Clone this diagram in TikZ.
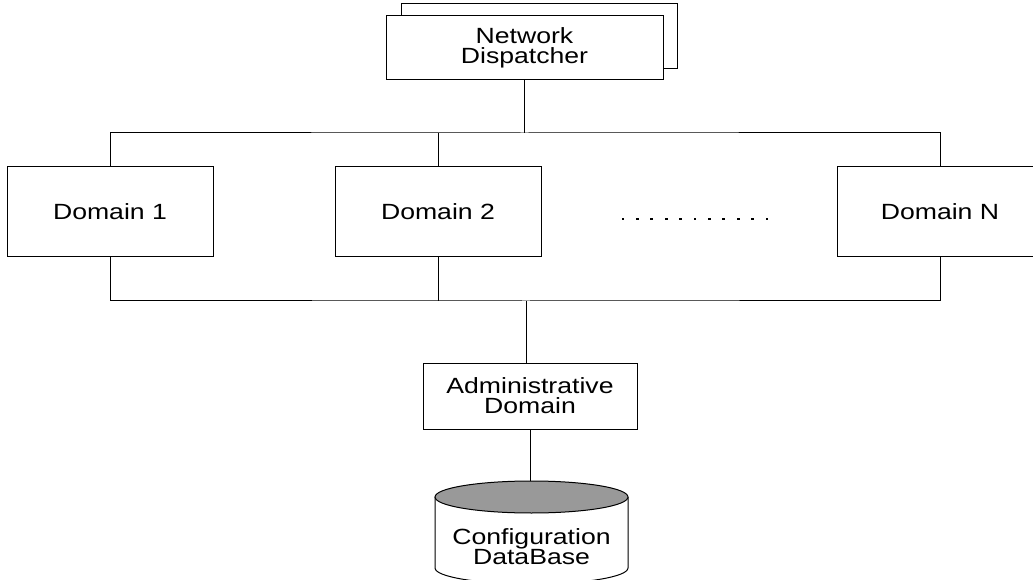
\documentclass[tikz,border=0pt]{standalone}
\usepackage{fontspec}
\setmainfont{Liberation Sans}[FakeStretch=1.21]
\begin{document}
\begin{tikzpicture}[x=1pt,y=1pt,line width=1pt,
    box/.style={draw,fill=white,align=center,inner sep=0pt,
      font=\fontsize{22}{20}\selectfont}]
    \useasboundingbox (0,0) rectangle (1033,579);
    \clip (0,0) rectangle (1033,579);
    % dispatcher (two stacked boxes)
    \node [box, minimum width=276, minimum height=65] (dispback) at (539,542.5) {};
    \node [box, minimum width=277, minimum height=64] (disp) at (524.5,531) {Network\\Dispatcher};
    % domains
    \node [box, minimum width=206, minimum height=90] (dom1) at (110,367) {Domain 1};
    \node [box, minimum width=206, minimum height=90] (dom2) at (438,367) {Domain 2};
    \node [box, minimum width=206, minimum height=90] (domN) at (940,367) {Domain N};
    \foreach \x in {0,1,...,10}
    {
      \fill (623+\x*14.4-1.4,358.6) rectangle ++(2.8,2.8);
    }
    % administration
    \node [box, minimum width=214, minimum height=66] (admin) at (530,183) {Administrative\\Domain};
    % database cylinder
    \fill [white] (435,82) -- (435,11) arc [start angle=180, end angle=360, x radius=96.5, y radius=16] -- (628,82) -- cycle;
    \draw (435,82) -- (435,11) arc [start angle=180, end angle=360, x radius=96.5, y radius=16] -- (628,82);
    \draw [fill=black!40] (531.5,82) ellipse [x radius=96.5, y radius=16];
    \coordinate (dbtop) at (531.5,98);
    \node [font=\fontsize{22}{20}\selectfont, align=center, inner sep=0pt] (db) at (531.5,32) {Configuration\\DataBase};
    % buses
    \draw (disp.south) -- (disp.south |- 0,446) coordinate (topbus);
    \draw (dom1.north) |- (topbus) -| (domN.north);
    \draw (dom2.north) -- (dom2.north |- topbus);
    \coordinate (botbus) at (526,278);
    \draw (dom1.south) |- (botbus) -| (domN.south);
    \draw (dom2.south) -- (dom2.south |- botbus);
    \draw (botbus) -- (botbus |- admin.north);
    \draw (admin.south) -- (admin.south |- dbtop);
  \end{tikzpicture}
\end{document}
